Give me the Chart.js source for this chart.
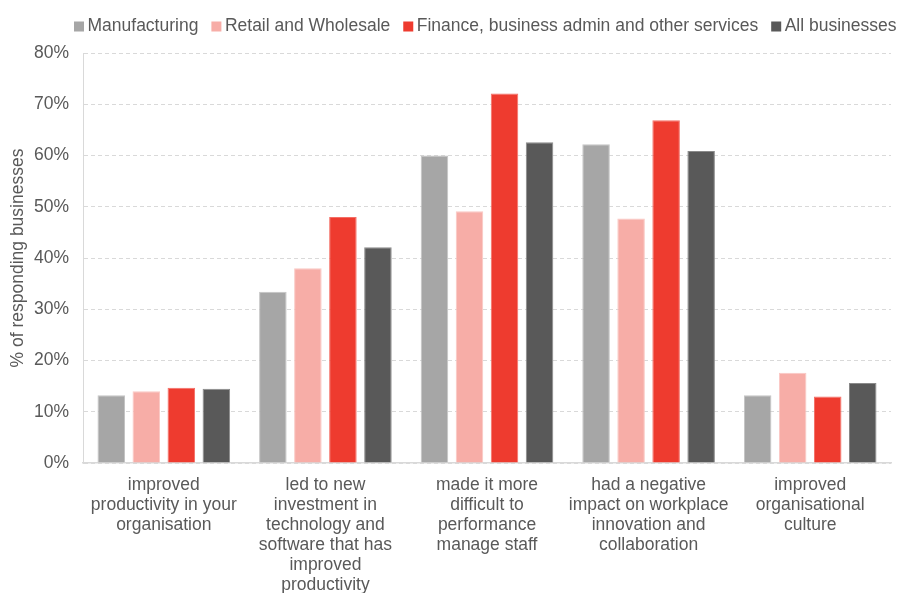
<!DOCTYPE html>
<html>
<head>
<meta charset="utf-8">
<script src="https://cdn.jsdelivr.net/npm/chart.js@4"></script>
<style>
  html, body { margin: 0; padding: 0; background: #fff; }
  #wrap { width: 898px; height: 593px; }
</style>
</head>
<body>
<div id="wrap"><canvas id="myBarChart"></canvas></div>
<script>
// categories (x axis labels, wrapped as in the original)
const categories = [
  ['improved', 'productivity in your', 'organisation'],
  ['led to new', 'investment in', 'technology and', 'software that has', 'improved', 'productivity'],
  ['made it more', 'difficult to', 'performance', 'manage staff'],
  ['had a negative', 'impact on workplace', 'innovation and', 'collaboration'],
  ['improved', 'organisational', 'culture']
];

// series values, % of responding businesses
const manufacturing = [13.2, 33.4, 60.0, 62.2, 13.2];
const retailWholesale = [14.0, 38.0, 49.1, 47.7, 17.6];
const financeServices = [14.7, 48.0, 72.1, 66.9, 13.0];
const allBusinesses = [14.5, 42.1, 62.6, 60.9, 15.6];

const yTicks = [0, 10, 20, 30, 40, 50, 60, 70, 80];

const textColor = '#595959';
const fontFamily = '"Liberation Sans", Arial, sans-serif';
const fontSize = 17.5;

// Excel style legend: small square, tight gap to the text
const tightLegend = {
  id: 'tightLegend',
  afterDraw(chart) {
    const ctx = chart.ctx;
    ctx.save();
    ctx.font = fontSize + 'px ' + fontFamily;
    ctx.textBaseline = 'middle';
    ctx.textAlign = 'left';
    let x = 74;
    const y = 26.5;
    chart.data.datasets.forEach(ds => {
      ctx.fillStyle = ds.backgroundColor;
      ctx.fillRect(x, y - 5, 10, 10);
      x += 13.5;
      ctx.fillStyle = textColor;
      ctx.fillText(ds.label, x, y);
      x += ctx.measureText(ds.label).width + 13;
    });
    ctx.restore();
  }
};

const dataBar = {
  labels: categories,
  datasets: [
    {
      label: 'Manufacturing',
      backgroundColor: '#A6A6A6',
      borderColor: '#C4C4C4',
      borderWidth: 1,
      data: manufacturing
    },
    {
      label: 'Retail and Wholesale',
      backgroundColor: '#F7ADA7',
      borderColor: '#FAC8C3',
      borderWidth: 1,
      data: retailWholesale
    },
    {
      label: 'Finance, business admin and other services',
      backgroundColor: '#EE3B2F',
      borderColor: '#F46E65',
      borderWidth: 1,
      data: financeServices
    },
    {
      label: 'All businesses',
      backgroundColor: '#595959',
      borderColor: '#8A8A8A',
      borderWidth: 1,
      data: allBusinesses
    }
  ]
};

const configBar = {
  type: 'bar',
  data: dataBar,
  plugins: [tightLegend],
  options: {
    responsive: true,
    maintainAspectRatio: false,
    animation: false,
    layout: { padding: { top: 53, right: 7, left: 0, bottom: 0 } },
    datasets: {
      bar: { categoryPercentage: 0.867, barPercentage: 0.786 }
    },
    plugins: {
      legend: { display: false },
      tooltip: { enabled: false }
    },
    scales: {
      x: {
        grid: { display: false, drawTicks: false },
        border: { display: true, color: '#D9D9D9', width: 1.5 },
        ticks: {
          color: textColor,
          font: { family: fontFamily, size: fontSize, lineHeight: 1.14 },
          padding: 12,
          maxRotation: 0,
          autoSkip: false
        },
        afterFit(scale) { scale.height = 130; }
      },
      y: {
        min: 0,
        max: 80,
        afterBuildTicks(scale) {
          scale.ticks = yTicks.map(v => ({ value: v }));
        },
        grid: { color: '#D9D9D9', drawTicks: false },
        border: { display: true, color: '#D9D9D9', dash: [4, 3] },
        ticks: {
          color: textColor,
          font: { family: fontFamily, size: fontSize },
          padding: 14,
          callback: v => v + '%'
        },
        title: {
          display: true,
          text: '% of responding businesses',
          color: textColor,
          font: { family: fontFamily, size: fontSize },
          padding: { top: 8, bottom: 0 }
        },
        afterFit(scale) { scale.width = 83; }
      }
    }
  }
};

const myBarChart = new Chart(
  document.getElementById('myBarChart'),
  configBar
);
</script>
</body>
</html>
